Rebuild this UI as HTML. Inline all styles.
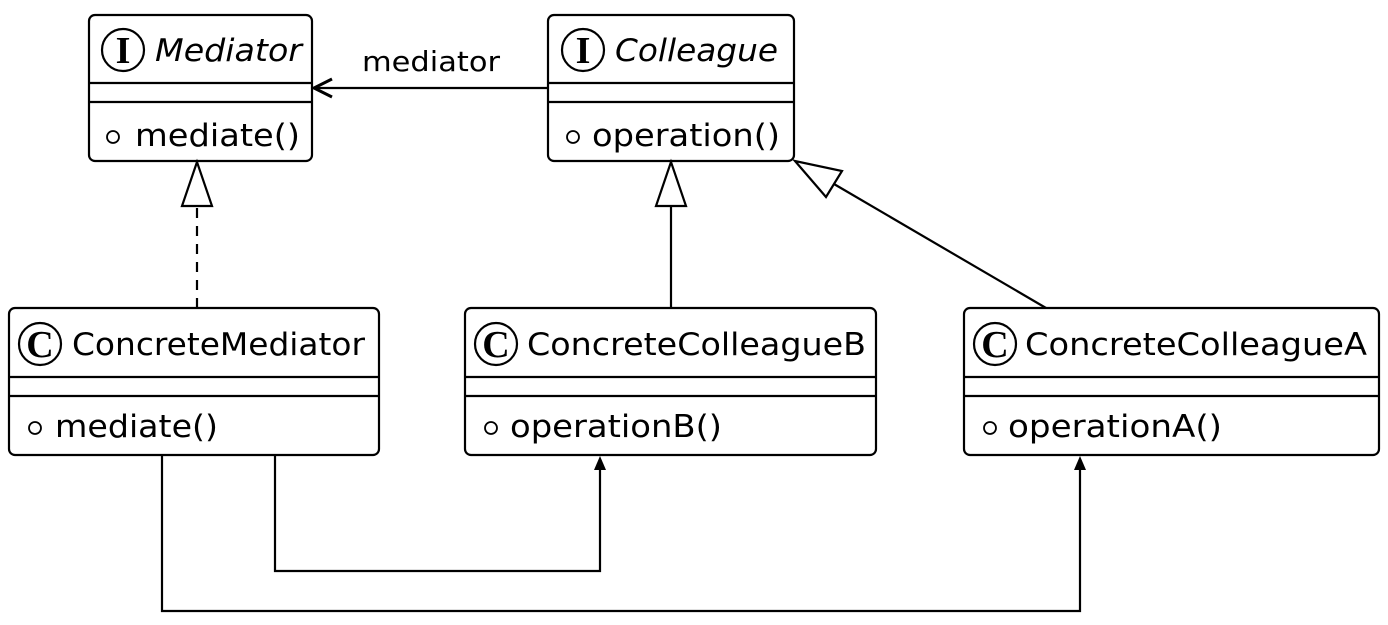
<!DOCTYPE html>
<html><head><meta charset="utf-8"><style>
html,body{margin:0;padding:0;background:#fff;}
svg{display:block;}
text{font-family:"DejaVu Sans","Liberation Sans",sans-serif;fill:#000;}
</style></head><body>
<svg width="1388" height="625" viewBox="0 0 1388 625" xmlns="http://www.w3.org/2000/svg">
<g fill="none" stroke="#000" stroke-width="2.2">
<rect x="89" y="15" width="223" height="146" rx="6"/>
<line x1="89" y1="83" x2="312" y2="83"/><line x1="89" y1="102" x2="312" y2="102"/>
<rect x="548" y="15" width="246" height="146" rx="6"/>
<line x1="548" y1="83" x2="794" y2="83"/><line x1="548" y1="102" x2="794" y2="102"/>
<rect x="9" y="308" width="370" height="147" rx="6"/>
<line x1="9" y1="377" x2="379" y2="377"/><line x1="9" y1="396" x2="379" y2="396"/>
<rect x="465" y="308" width="411" height="147" rx="6"/>
<line x1="465" y1="377" x2="876" y2="377"/><line x1="465" y1="396" x2="876" y2="396"/>
<rect x="964" y="308" width="415" height="147" rx="6"/>
<line x1="964" y1="377" x2="1379" y2="377"/><line x1="964" y1="396" x2="1379" y2="396"/>
<circle cx="123" cy="50" r="21"/><circle cx="583" cy="50" r="21"/>
<circle cx="40" cy="344" r="21"/><circle cx="496" cy="344" r="21"/><circle cx="995" cy="344" r="21"/>
<circle cx="113" cy="137" r="6" stroke-width="1.8"/><circle cx="573" cy="137" r="6" stroke-width="1.8"/>
<circle cx="35" cy="428" r="6" stroke-width="1.8"/><circle cx="491" cy="428" r="6" stroke-width="1.8"/><circle cx="990" cy="428" r="6" stroke-width="1.8"/>
<line x1="548" y1="88" x2="316" y2="88"/>
<polyline points="332,79 314,88 332,97" stroke-width="3"/>
<line x1="197" y1="308" x2="197" y2="206" stroke-dasharray="10,8"/>
<polygon points="197,162 182,206 212,206"/>
<line x1="671" y1="308" x2="671" y2="206"/>
<polygon points="671,162 656,206 686,206"/>
<line x1="1046" y1="308" x2="834" y2="184"/>
<polygon points="795,161 826,197 842,171"/>
<polyline points="275,455 275,571 600,571 600,466"/>
<polyline points="162,455 162,611 1080,611 1080,466"/>
</g>
<polygon points="600,456 594,470 606,470" fill="#000"/>
<polygon points="1080,456 1074,470 1086,470" fill="#000"/>
<g font-weight="bold" font-size="38" text-anchor="middle">
<text x="123" y="63" style="font-family:'Liberation Serif',serif">I</text>
<text x="583" y="63" style="font-family:'Liberation Serif',serif">I</text>
<text x="40" y="357" style="font-family:'Liberation Serif',serif">C</text>
<text x="496" y="357" style="font-family:'Liberation Serif',serif">C</text>
<text x="995" y="357" style="font-family:'Liberation Serif',serif">C</text>
</g>
<g font-size="31">
<text x="155" y="61" font-style="italic" textLength="147" lengthAdjust="spacingAndGlyphs">Mediator</text>
<text x="135" y="146" textLength="165" lengthAdjust="spacingAndGlyphs">mediate()</text>
<text x="615" y="61" font-style="italic" textLength="163" lengthAdjust="spacingAndGlyphs">Colleague</text>
<text x="592" y="146" textLength="188" lengthAdjust="spacingAndGlyphs">operation()</text>
<text x="72" y="355" textLength="293" lengthAdjust="spacingAndGlyphs">ConcreteMediator</text>
<text x="55" y="437" textLength="163" lengthAdjust="spacingAndGlyphs">mediate()</text>
<text x="527" y="355" textLength="339" lengthAdjust="spacingAndGlyphs">ConcreteColleagueB</text>
<text x="510" y="437" textLength="212" lengthAdjust="spacingAndGlyphs">operationB()</text>
<text x="1025" y="355" textLength="342" lengthAdjust="spacingAndGlyphs">ConcreteColleagueA</text>
<text x="1008" y="437" textLength="214" lengthAdjust="spacingAndGlyphs">operationA()</text>
</g>
<text x="362" y="71" font-size="28" textLength="138" lengthAdjust="spacingAndGlyphs">mediator</text>
</svg>
</body></html>
